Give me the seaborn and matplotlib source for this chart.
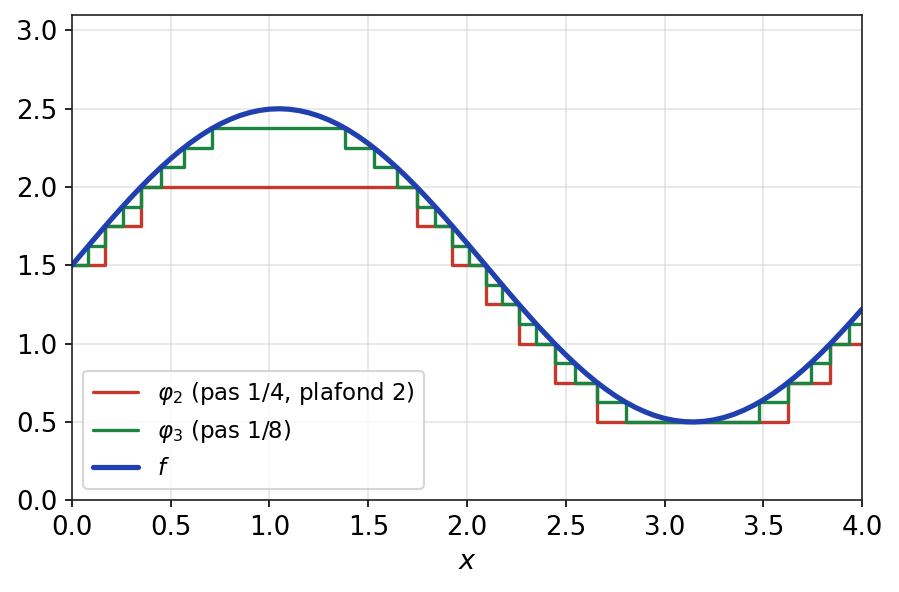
import numpy as np
import pandas as pd
import seaborn as sns
import matplotlib
matplotlib.use("Agg")
import matplotlib.pyplot as plt

f_x = [0.0, 0.05, 0.1, 0.15, 0.2, 0.25, 0.3, 0.35, 0.4, 0.45, 0.5, 0.55, 0.6, 0.65,
       0.7, 0.75, 0.8, 0.85, 0.9, 0.95, 1.0, 1.05, 1.1, 1.15, 1.2, 1.25, 1.3, 1.35,
       1.4, 1.45, 1.5, 1.55, 1.6, 1.65, 1.7, 1.75, 1.8, 1.85, 1.9, 1.95, 2.0, 2.05,
       2.1, 2.15, 2.2, 2.25, 2.3, 2.35, 2.4, 2.45, 2.5, 2.55, 2.6, 2.65, 2.7, 2.75,
       2.8, 2.85, 2.9, 2.95, 3.0, 3.05, 3.1, 3.15, 3.2, 3.25, 3.3, 3.35, 3.4, 3.45,
       3.5, 3.55, 3.6, 3.65, 3.7, 3.75, 3.8, 3.85, 3.9, 3.95, 4.0]
f_y = [1.5000, 1.5749, 1.6494, 1.7231, 1.7955, 1.8663, 1.9350, 2.0012, 2.0646,
       2.1249, 2.1816, 2.2345, 2.2833, 2.3277, 2.3674, 2.4023, 2.4320, 2.4566,
       2.4757, 2.4894, 2.4975, 2.5000, 2.4969, 2.4881, 2.4738, 2.4541, 2.4290,
       2.3986, 2.3632, 2.3230, 2.2781, 2.2288, 2.1755, 2.1183, 2.0577, 1.9939,
       1.9274, 1.8584, 1.7875, 1.7149, 1.6411, 1.5665, 1.4916, 1.4167, 1.3422,
       1.2687, 1.1965, 1.1259, 1.0575, 0.9915, 0.9284, 0.8686, 0.8122, 0.7598,
       0.7115, 0.6676, 0.6284, 0.5941, 0.5650, 0.5410, 0.5225, 0.5094, 0.5019,
       0.5000, 0.5038, 0.5132, 0.5281, 0.5485, 0.5742, 0.6051, 0.6411, 0.6819,
       0.7272, 0.7770, 0.8308, 0.8883, 0.9493, 1.0134, 1.0802, 1.1494, 1.2206]

# phi2: step breakpoints and levels (step 1/4, ceiling 2)
phi2_x = [0.0, 0.1685, 0.3491, 1.7453, 1.9259, 2.0944, 2.2629, 2.4435, 2.6598,
          3.6234, 3.8397, 4.0]
phi2_y = [1.5, 1.75, 2.0, 1.75, 1.5, 1.25, 1.0, 0.75, 0.5, 0.75, 1.0, 1.0]

# phi3: step breakpoints and levels (step 1/8)
phi3_x = [0.0, 0.0836, 0.1685, 0.2563, 0.3491, 0.4501, 0.5654, 0.7103, 1.3841,
          1.5290, 1.6443, 1.7453, 1.8381, 1.9259, 2.0108, 2.0944, 2.1780, 2.2629,
          2.3507, 2.4435, 2.5445, 2.6598, 2.8047, 3.4785, 3.6234, 3.7387, 3.8397,
          3.9325, 4.0]
phi3_y = [1.5, 1.625, 1.75, 1.875, 2.0, 2.125, 2.25, 2.375, 2.25, 2.125, 2.0,
          1.875, 1.75, 1.625, 1.5, 1.375, 1.25, 1.125, 1.0, 0.875, 0.75, 0.625,
          0.5, 0.625, 0.75, 0.875, 1.0, 1.125, 1.125]

x_ticks = [0.0, 0.5, 1.0, 1.5, 2.0, 2.5, 3.0, 3.5, 4.0]
y_ticks = [0.0, 0.5, 1.0, 1.5, 2.0, 2.5, 3.0]

sns.set_style("ticks")
plt.rcParams['font.family'] = ['DejaVu Sans']
plt.rcParams.update({
    "text.color": "black", "axes.labelcolor": "black",
    "xtick.color": "black", "ytick.color": "black",
    "xtick.labelcolor": "black", "ytick.labelcolor": "black",
})

fig, ax = plt.subplots(figsize=(899/150, 592/150), dpi=150)

df2 = pd.DataFrame({"x": phi2_x, "y": phi2_y})
df3 = pd.DataFrame({"x": phi3_x, "y": phi3_y})
dff = pd.DataFrame({"x": f_x, "y": f_y})

sns.lineplot(data=df2, x="x", y="y", ax=ax, color="#c8382a", lw=1.6,
             drawstyle="steps-post", label=r"$\varphi_2$ (pas 1/4, plafond 2)",
             estimator=None, sort=False)
sns.lineplot(data=df3, x="x", y="y", ax=ax, color="#1b8540", lw=1.6,
             drawstyle="steps-post", label=r"$\varphi_3$ (pas 1/8)",
             estimator=None, sort=False)
sns.lineplot(data=dff, x="x", y="y", ax=ax, color="#2140b0", lw=2.5,
             label=r"$f$", estimator=None, sort=False)

ax.set_xlim(0, 4)
ax.set_ylim(0, 3.1)
ax.set_xticks(x_ticks)
ax.set_yticks(y_ticks)
ax.grid(True, color="#cccccc", alpha=0.5, lw=0.8)
ax.set_xlabel(r"$x$", fontsize=13)
ax.set_ylabel("")
ax.tick_params(labelsize=12.5, colors="black")
for s in ax.spines.values():
    s.set_color("#222222")
leg = ax.legend(loc="lower left", fontsize=11, frameon=True, fancybox=True)

fig.subplots_adjust(left=0.08, right=0.959, top=0.975, bottom=0.155)
fig.savefig("out.png", dpi=150)
